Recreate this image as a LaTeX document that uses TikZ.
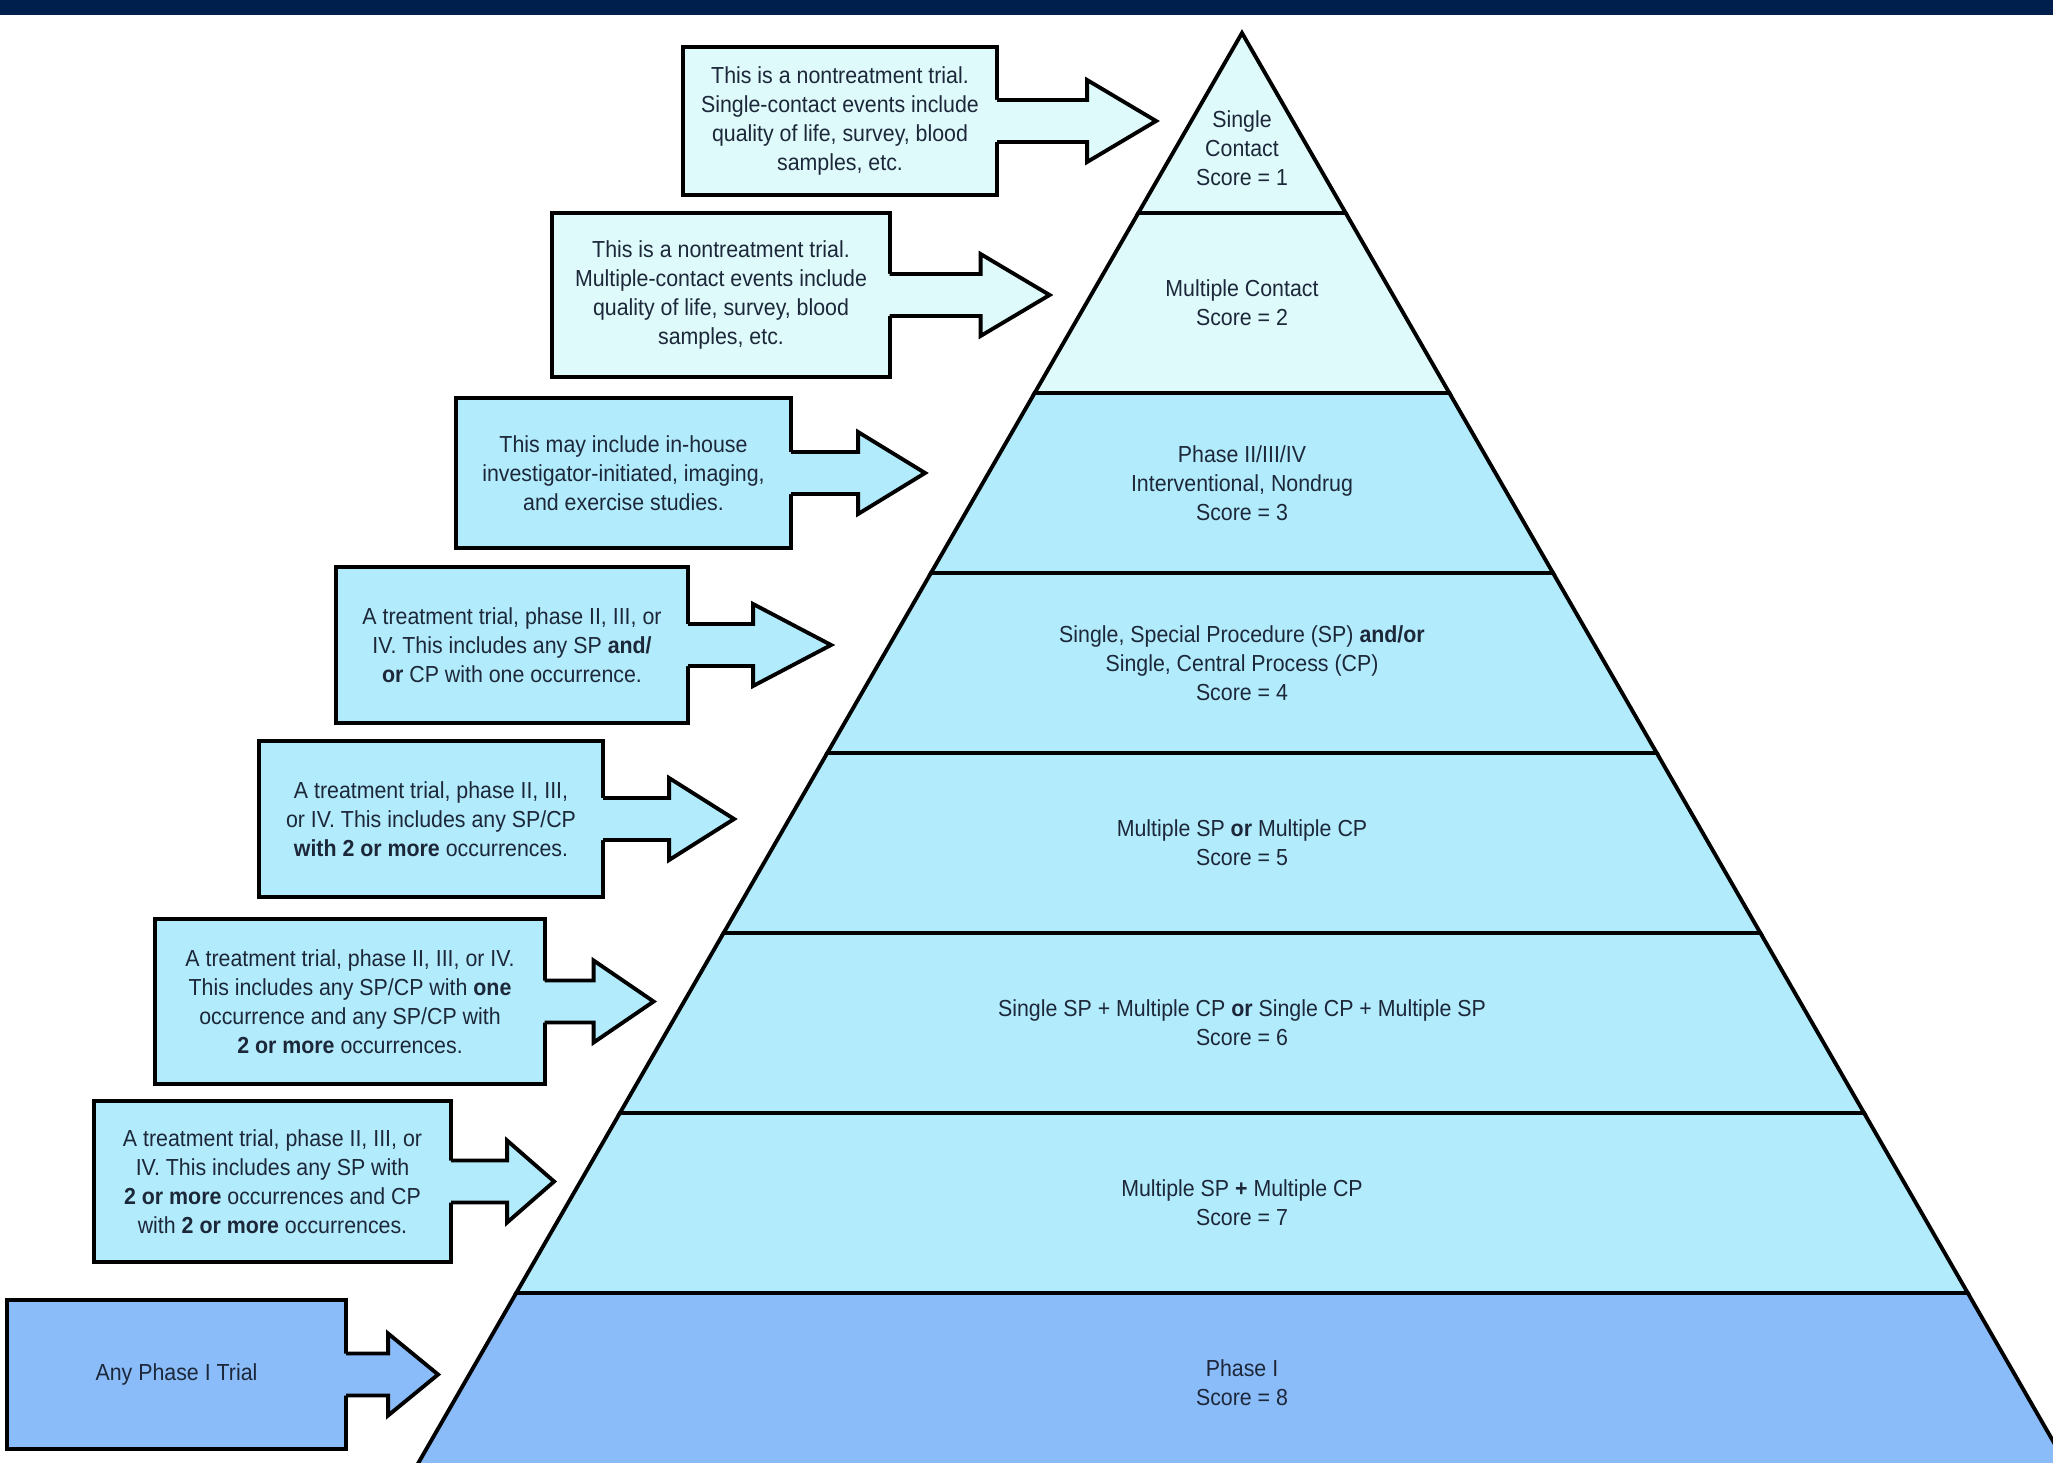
\documentclass[tikz,border=0pt]{standalone}
\usepackage{fontspec}
\setmainfont{Liberation Sans}[FakeStretch=0.92]
\usepackage{tikz}
\usetikzlibrary{calc}
\definecolor{navybar}{RGB}{0,31,77}
\definecolor{palecyan}{RGB}{222,250,250}
\definecolor{skyfill}{RGB}{178,235,251}
\definecolor{phaseblue}{RGB}{138,188,250}
\definecolor{inkblue}{RGB}{28,40,58}

\begin{document}
\begin{tikzpicture}[x=0.01cm, y=0.01cm,
      every node/.style={font=\fontsize{6.6}{8.3}\selectfont, text=inkblue,
                         align=center},
      note/.style={draw=black, line width=1.1pt, inner sep=0pt, outer sep=0pt},
      lvl/.style={draw=black, line width=1.1pt}]
    \useasboundingbox (0,0) rectangle (2053,1462);
    \clip (0,0) rectangle (2053,1462);
    \fill[navybar] (0,1447) rectangle (2053,1462);

    % pyramid, one trapezoid per score
    \foreach \k/\col in {1/palecyan,2/palecyan,3/skyfill,4/skyfill,5/skyfill,
                         6/skyfill,7/skyfill,8/phaseblue} {
      \pgfmathsetmacro{\yt}{1429-180*(\k-1)}
      \pgfmathsetmacro{\yb}{1429-180*\k}
      \pgfmathsetmacro{\wt}{0.576*180*(\k-1)}
      \pgfmathsetmacro{\wb}{0.576*180*\k}
      \filldraw[lvl, fill=\col] (1242-\wt,\yt) -- (1242+\wt,\yt)
        -- (1242+\wb,\yb) -- (1242-\wb,\yb) -- cycle;
    }
    \node (L1) at (1242,1314) {Single\\Contact\\Score = 1};
    \node (L2) at (1242,1159) {Multiple Contact\\Score = 2};
    \node (L3) at (1242,979) {Phase II/III/IV\\Interventional, Nondrug\\Score = 3};
    \node (L4) at (1242,799) {Single, Special Procedure (SP) \textbf{and/or}\\
                              Single, Central Process (CP)\\Score = 4};
    \node (L5) at (1242,619) {Multiple SP \textbf{or} Multiple CP\\Score = 5};
    \node (L6) at (1242,439) {Single SP + Multiple CP \textbf{or} Single CP + Multiple SP\\
                              Score = 6};
    \node (L7) at (1242,259) {Multiple SP \textbf{+} Multiple CP\\Score = 7};
    \node (L8) at (1242,79) {Phase I\\Score = 8};

    % explanation boxes
    \node[note, fill=palecyan, minimum width=3.14cm, minimum height=1.48cm]
      (B1) at (840,1341) {This is a nontreatment trial.\\Single-contact events include\\
                          quality of life, survey, blood\\samples, etc.};
    \node[note, fill=palecyan, minimum width=3.37cm, minimum height=1.64cm]
      (B2) at (721,1167) {This is a nontreatment trial.\\Multiple-contact events include\\
                          quality of life, survey, blood\\samples, etc.};
    \node[note, fill=skyfill, minimum width=3.35cm, minimum height=1.50cm]
      (B3) at (623.5,989) {This may include in-house\\investigator-initiated, imaging,\\
                           and exercise studies.};
    \node[note, fill=skyfill, minimum width=3.52cm, minimum height=1.56cm]
      (B4) at (512,817) {A treatment trial, phase II, III, or\\
                         IV. This includes any SP \textbf{and/}\\
                         \textbf{or} CP with one occurrence.};
    \node[note, fill=skyfill, minimum width=3.44cm, minimum height=1.56cm]
      (B5) at (431,643) {A treatment trial, phase II, III,\\or IV. This includes any SP/CP\\
                         \textbf{with 2 or more} occurrences.};
    \node[note, fill=skyfill, minimum width=3.89cm, minimum height=1.65cm]
      (B6) at (350,460.5) {A treatment trial, phase II, III, or IV.\\
                           This includes any SP/CP with \textbf{one}\\
                           occurrence and any SP/CP with\\\textbf{2 or more} occurrences.};
    \node[note, fill=skyfill, minimum width=3.57cm, minimum height=1.61cm]
      (B7) at (272.5,280.5) {A treatment trial, phase II, III, or\\IV. This includes any SP with\\
                             \textbf{2 or more} occurrences and CP\\
                             with \textbf{2 or more} occurrences.};
    \node[note, fill=phaseblue, minimum width=3.39cm, minimum height=1.49cm]
      (B8) at (176.5,87.5) {Any Phase I Trial};

    % block arrows growing out of the boxes
    \foreach \b/\col/\s/\h in {B1/palecyan/90/69, B2/palecyan/91/69, B3/skyfill/67/67,
                               B4/skyfill/65/78, B5/skyfill/66/65, B6/skyfill/49/60,
                               B7/skyfill/56/47, B8/phaseblue/42/50} {
      \fill[\col] ($(\b.east)+(-3,21)$) -- ++(\s+3,0) -- ++(0,20) -- ++(\h,-41)
        -- ++(-\h,-41) -- ++(0,20) -- ++(-\s-3,0) -- cycle;
      \draw[lvl] ($(\b.east)+(0,21)$) -- ++(\s,0) -- ++(0,20) -- ++(\h,-41)
        -- ++(-\h,-41) -- ++(0,20) -- ++(-\s,0);
    }
  \end{tikzpicture}
\end{document}
